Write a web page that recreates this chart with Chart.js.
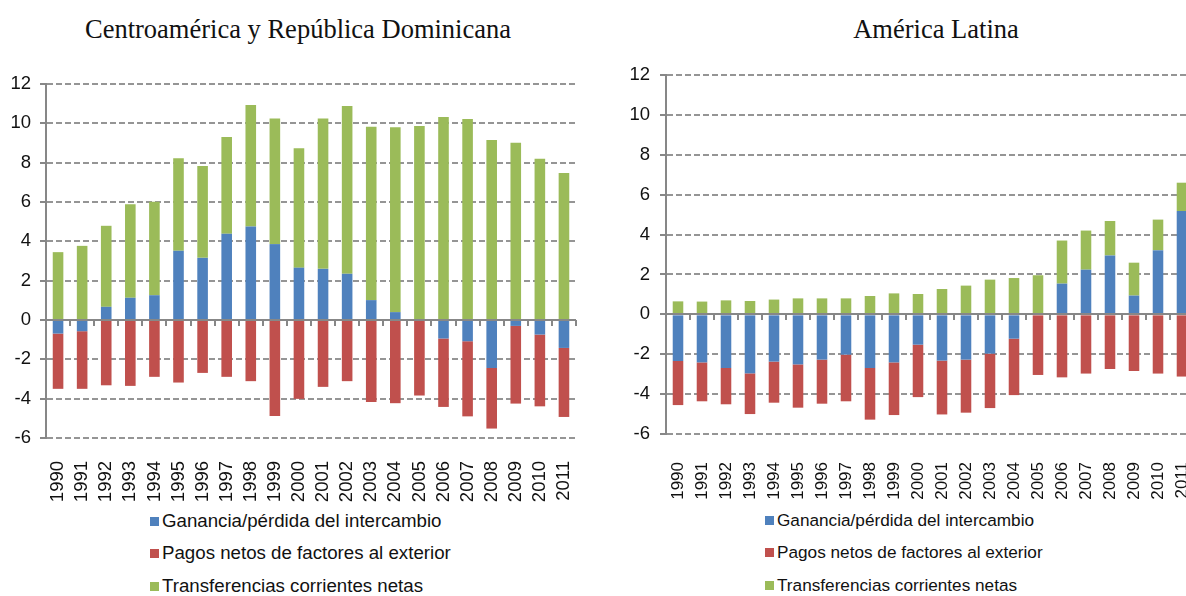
<!DOCTYPE html>
<html>
<head>
<meta charset="utf-8">
<script src="https://cdn.jsdelivr.net/npm/chart.js@4.4.1/dist/chart.umd.min.js"></script>
<style>
  html, body { margin: 0; padding: 0; background: #fff; }
  body { position: relative; width: 1186px; height: 596px; overflow: hidden; }
  .title { position: absolute; font-family: "Liberation Serif", "Times New Roman", serif; font-size: 26.5px;
           line-height: 1; color: #111; white-space: nowrap; transform: translateX(-50%); }
  canvas { position: absolute; top: 0; }
  .legend-row { position: absolute; height: 20px; line-height: 20px; display: flex; align-items: center;
                font-family: "Liberation Sans", Arial, sans-serif; color: #111; white-space: nowrap; }
  .legend-row .box { width: 9px; height: 9px; margin-right: 3px; flex: none; }
</style>
</head>
<body>
<div class="title" id="titleCA" style="left:298px; top:15.5px;">Centroamérica y República Dominicana</div>
<div class="title" id="titleAL" style="left:936px; top:15.5px;">América Latina</div>
<canvas id="chartCA" width="600" height="510" style="left:0px;"></canvas>
<canvas id="chartAL" width="610" height="510" style="left:600px;"></canvas>
<div id="legendCA"></div>
<div id="legendAL"></div>
<script>
// Years on the category axis
const years = ['1990','1991','1992','1993','1994','1995','1996','1997','1998','1999','2000',
               '2001','2002','2003','2004','2005','2006','2007','2008','2009','2010','2011'];

const seriesNames = ['Ganancia/pérdida del intercambio',
                     'Pagos netos de factores al exterior',
                     'Transferencias corrientes netas'];
const seriesColors = ['#4F81BD', '#C0504D', '#9BBB59'];

// Centroamérica y República Dominicana (% del PIB)
const caGanancia = [-0.69, -0.57, 0.67, 1.13, 1.26, 3.52, 3.16, 4.38, 4.76, 3.86, 2.66,
                    2.60, 2.35, 1.01, 0.40, 0.00, -0.94, -1.08, -2.44, -0.30, -0.74, -1.42];
const caPagos     = [-2.81, -2.93, -3.32, -3.35, -2.89, -3.18, -2.69, -2.89, -3.11, -4.88, -4.01,
                    -3.40, -3.11, -4.17, -4.23, -3.84, -3.48, -3.82, -3.08, -3.95, -3.65, -3.51];
const caTransfer  = [3.45, 3.77, 4.12, 4.75, 4.75, 4.71, 4.67, 4.92, 6.17, 6.39, 6.07,
                    7.65, 8.53, 8.82, 9.40, 9.86, 10.32, 10.22, 9.15, 9.01, 8.20, 7.47];

// América Latina (% del PIB)
const alGanancia = [-2.34, -2.41, -2.69, -2.96, -2.37, -2.51, -2.27, -2.02, -2.69, -2.41, -1.52,
                    -2.32, -2.27, -1.97, -1.22, 0.00, 1.54, 2.24, 2.95, 0.94, 3.21, 5.18];
const alPagos     = [-2.21, -1.95, -1.82, -2.04, -2.06, -2.17, -2.21, -2.34, -2.59, -2.64, -2.63,
                    -2.70, -2.66, -2.73, -2.83, -3.04, -3.16, -2.97, -2.74, -2.84, -2.97, -3.12];
const alTransfer  = [0.65, 0.64, 0.70, 0.67, 0.74, 0.80, 0.80, 0.80, 0.92, 1.05, 1.02,
                    1.27, 1.44, 1.74, 1.82, 1.96, 2.16, 1.96, 1.73, 1.65, 1.54, 1.42];

// Value axis range shared by both panels
const yMin = -6, yMax = 12, yStep = 2;

const axisGray = '#878787';

// Solid baseline at zero with short tick marks between the years
const zeroAxis = {
  id: 'zeroAxis',
  afterDatasetsDraw(chart) {
    const { ctx, chartArea: a, scales: { x, y } } = chart;
    const y0 = Math.round(y.getPixelForValue(0));
    const n = chart.data.labels.length;
    ctx.save();
    ctx.strokeStyle = axisGray;
    ctx.lineWidth = 2;
    ctx.beginPath();
    ctx.moveTo(a.left, y0);
    ctx.lineTo(a.right, y0);
    for (let i = 0; i <= n; i++) {
      let bx;
      if (i === 0) bx = a.left;
      else if (i === n) bx = a.right;
      else bx = (x.getPixelForValue(i - 1) + x.getPixelForValue(i)) / 2;
      bx = Math.round(bx);
      ctx.moveTo(bx, y0);
      ctx.lineTo(bx, y0 + 6);
    }
    ctx.stroke();
    ctx.restore();
  }
};

function buildChart(canvasId, series, cfg) {
  return new Chart(document.getElementById(canvasId), {
    type: 'bar',
    data: {
      labels: years,
      datasets: series.map((values, i) => ({
        label: seriesNames[i],
        data: values,
        backgroundColor: seriesColors[i],
        borderWidth: 0,
        barPercentage: 0.44,
        categoryPercentage: 1
      }))
    },
    options: {
      responsive: false,
      animation: false,
      devicePixelRatio: 1,
      layout: { padding: cfg.padding },
      plugins: { legend: { display: false }, title: { display: false }, tooltip: { enabled: false } },
      scales: {
        x: {
          stacked: true,
          grid: { display: false },
          border: { display: false },
          ticks: {
            color: '#111',
            font: { family: 'Liberation Sans', size: cfg.xFont },
            minRotation: 90, maxRotation: 90,
            padding: cfg.xPad,
            autoSkip: false
          },
          afterFit(scale) {
            scale.height = cfg.xHeight;
            // the plot width is fixed by the layout padding alone
            scale.paddingLeft = 0;
            scale.paddingRight = 0;
          }
        },
        y: {
          stacked: true,
          min: yMin, max: yMax,
          ticks: {
            stepSize: yStep,
            color: '#111',
            font: { family: 'Liberation Sans', size: 18.5 },
            padding: cfg.yPad
          },
          grid: {
            color: '#959595',
            lineWidth: 2,
            drawTicks: true,
            tickLength: 6,
            tickColor: axisGray,
            tickWidth: 2,
            tickBorderDash: []
          },
          border: { display: true, color: axisGray, width: 2, dash: [6, 3] },
          afterFit(scale) { scale.width = cfg.yWidth; }
        }
      }
    },
    plugins: [zeroAxis]
  });
}

function buildLegend(holderId, chart, cfg) {
  const holder = document.getElementById(holderId);
  chart.data.datasets.forEach((ds, i) => {
    const row = document.createElement('div');
    row.className = 'legend-row';
    row.style.left = cfg.left + 'px';
    row.style.top = (cfg.rows[i] - 10) + 'px';
    row.style.fontSize = cfg.font + 'px';
    const box = document.createElement('span');
    box.className = 'box';
    box.style.background = ds.backgroundColor;
    const txt = document.createElement('span');
    txt.textContent = ds.label;
    row.appendChild(box);
    row.appendChild(txt);
    holder.appendChild(row);
  });
}

const chartCA = buildChart('chartCA', [caGanancia, caPagos, caTransfer], {
  padding: { left: 0, top: 84, right: 24, bottom: 0 },
  yWidth: 46, yPad: 9, xHeight: 72, xPad: 15, xFont: 18.5
});
const chartAL = buildChart('chartAL', [alGanancia, alPagos, alTransfer], {
  padding: { left: 0, top: 75, right: 16, bottom: 0 },
  yWidth: 66, yPad: 10, xHeight: 76, xPad: 20, xFont: 17
});

buildLegend('legendCA', chartCA, { left: 150, rows: [521, 553, 586], font: 18.7 });
buildLegend('legendAL', chartAL, { left: 765, rows: [520, 552, 585], font: 17.2 });
</script>
</body>
</html>
